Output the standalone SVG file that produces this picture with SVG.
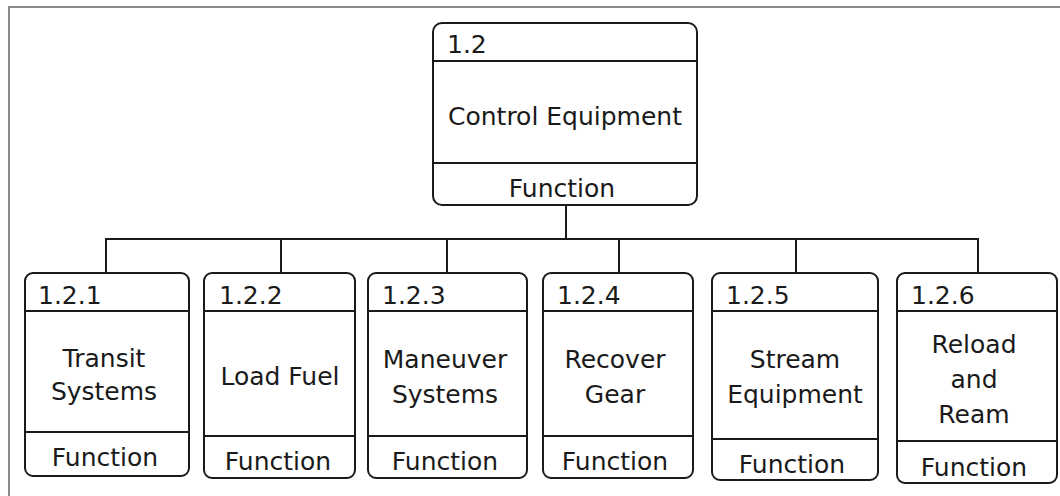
<svg xmlns="http://www.w3.org/2000/svg" width="1060" height="496" viewBox="0 0 1060 496">
<style>
.box{fill:#fff;stroke:#1a1a1a;stroke-width:2}
.div{stroke:#1a1a1a;stroke-width:2}
.t{font-family:"DejaVu Sans",sans-serif;font-size:25px;fill:#1a1a1a}
.c{text-anchor:middle}
.con{fill:none;stroke:#1a1a1a;stroke-width:2}
</style>
<rect width="1060" height="496" fill="#fff"/>
<path d="M9 496 V7 H1060" fill="none" stroke="#8a8a8a" stroke-width="2"/>
<g id="connectors">
<path class="con" d="M566 205 V239"/>
<path class="con" d="M106 273 V239 H978 V273"/>
<path class="con" d="M281 239 V273 M447 239 V273 M619 239 V273 M796 239 V273"/>
</g>
<g id="n1_2">
<rect class="box" x="433" y="23" width="264" height="182" rx="9"/>
<path class="div" d="M433 61 H697 M433 163 H697"/>
<text class="t" x="447" y="53">1.2</text>
<text class="t c" x="565" y="125">Control Equipment</text>
<text class="t c" x="562" y="197">Function</text>
</g>
<g id="n1_2_1">
<rect class="box" x="25" y="273" width="164" height="203" rx="8"/>
<path class="div" d="M25 311 H189 M25 432 H189"/>
<text class="t" x="38" y="304">1.2.1</text>
<text class="t c" x="104" y="367">Transit</text>
<text class="t c" x="104" y="400">Systems</text>
<text class="t c" x="105" y="466">Function</text>
</g>
<g id="n1_2_2">
<rect class="box" x="204" y="273" width="151" height="205" rx="8"/>
<path class="div" d="M204 311 H355 M204 436 H355"/>
<text class="t" x="219" y="304">1.2.2</text>
<text class="t c" x="280" y="385">Load Fuel</text>
<text class="t c" x="278" y="470">Function</text>
</g>
<g id="n1_2_3">
<rect class="box" x="368" y="273" width="159" height="205" rx="8"/>
<path class="div" d="M368 311 H527 M368 436 H527"/>
<text class="t" x="382" y="304">1.2.3</text>
<text class="t c" x="445" y="368">Maneuver</text>
<text class="t c" x="445" y="403">Systems</text>
<text class="t c" x="445" y="470">Function</text>
</g>
<g id="n1_2_4">
<rect class="box" x="543" y="273" width="150" height="205" rx="8"/>
<path class="div" d="M543 311 H693 M543 436 H693"/>
<text class="t" x="557" y="304">1.2.4</text>
<text class="t c" x="615" y="368">Recover</text>
<text class="t c" x="615" y="403">Gear</text>
<text class="t c" x="615" y="470">Function</text>
</g>
<g id="n1_2_5">
<rect class="box" x="712" y="273" width="166" height="207" rx="8"/>
<path class="div" d="M712 311 H878 M712 439 H878"/>
<text class="t" x="726" y="304">1.2.5</text>
<text class="t c" x="795" y="368">Stream</text>
<text class="t c" x="795" y="403">Equipment</text>
<text class="t c" x="792" y="473">Function</text>
</g>
<g id="n1_2_6">
<rect class="box" x="897" y="273" width="160" height="210" rx="8"/>
<path class="div" d="M897 311 H1057 M897 441 H1057"/>
<text class="t" x="911" y="304">1.2.6</text>
<text class="t c" x="974" y="353">Reload</text>
<text class="t c" x="974" y="388">and</text>
<text class="t c" x="974" y="423">Ream</text>
<text class="t c" x="974" y="476">Function</text>
</g>
</svg>
